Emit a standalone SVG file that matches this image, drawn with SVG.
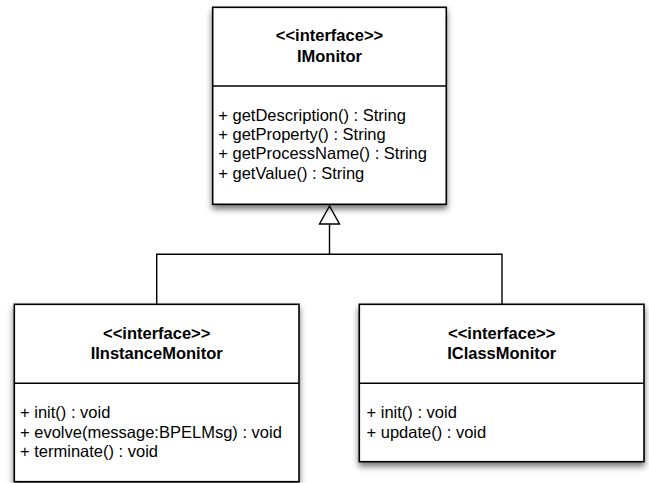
<svg xmlns="http://www.w3.org/2000/svg" width="649" height="483" viewBox="0 0 649 483">
<style>
.box{fill:#fff;stroke:#000;stroke-width:1.6;filter:url(#sh)}
.div{stroke:#000;stroke-width:1.4;fill:none}
.t{font-family:"Liberation Sans",Arial,sans-serif;font-size:16.5px;font-weight:bold;text-anchor:middle;fill:#000}
.m{font-family:"Liberation Sans",Arial,sans-serif;font-size:16.5px;fill:#000}
.c{stroke:#000;stroke-width:1.4;fill:none}
</style>
<defs>
<filter id="sh" x="-10%" y="-10%" width="120%" height="125%">
<feDropShadow dx="0" dy="4" stdDeviation="3" flood-color="#000" flood-opacity="0.55"/>
</filter>
</defs>
<g id="connectors">
<polyline class="c" points="156.7,304.3 156.7,254.3 502,254.3 502,304.3"/>
<line class="c" x1="329.5" y1="254.3" x2="329.5" y2="224"/>
<polygon points="329.5,206 319.5,224 339.5,224" fill="#fff" stroke="#000" stroke-width="1.4"/>
</g>
<g id="IMonitor">
<rect class="box" x="212.7" y="7.3" width="233.6" height="197"/>
<line class="div" x1="212.7" y1="86" x2="446.3" y2="86"/>
<text class="t" x="329.5" y="41">&lt;&lt;interface&gt;&gt;</text>
<text class="t" x="329.5" y="62.3">IMonitor</text>
<text class="m" x="218.3" y="120.7">+ getDescription() : String</text>
<text class="m" x="218.3" y="140">+ getProperty() : String</text>
<text class="m" x="218.3" y="159.3">+ getProcessName() : String</text>
<text class="m" x="218.3" y="178.6">+ getValue() : String</text>
</g>
<g id="IInstanceMonitor">
<rect class="box" x="14.3" y="304.3" width="284.7" height="177.4"/>
<line class="div" x1="14.3" y1="383.3" x2="299" y2="383.3"/>
<text class="t" x="156.7" y="339.3">&lt;&lt;interface&gt;&gt;</text>
<text class="t" x="156.7" y="359.3">IInstanceMonitor</text>
<text class="m" x="20" y="418.3">+ init() : void</text>
<text class="m" x="20" y="437.7">+ evolve(message:BPELMsg) : void</text>
<text class="m" x="20" y="457">+ terminate() : void</text>
</g>
<g id="IClassMonitor">
<rect class="box" x="359.3" y="304.3" width="284.7" height="157.4"/>
<line class="div" x1="359.3" y1="383.3" x2="644" y2="383.3"/>
<text class="t" x="501.7" y="339.3">&lt;&lt;interface&gt;&gt;</text>
<text class="t" x="501.7" y="359.3">IClassMonitor</text>
<text class="m" x="366.5" y="418.3">+ init() : void</text>
<text class="m" x="366.5" y="437.7">+ update() : void</text>
</g>
</svg>
